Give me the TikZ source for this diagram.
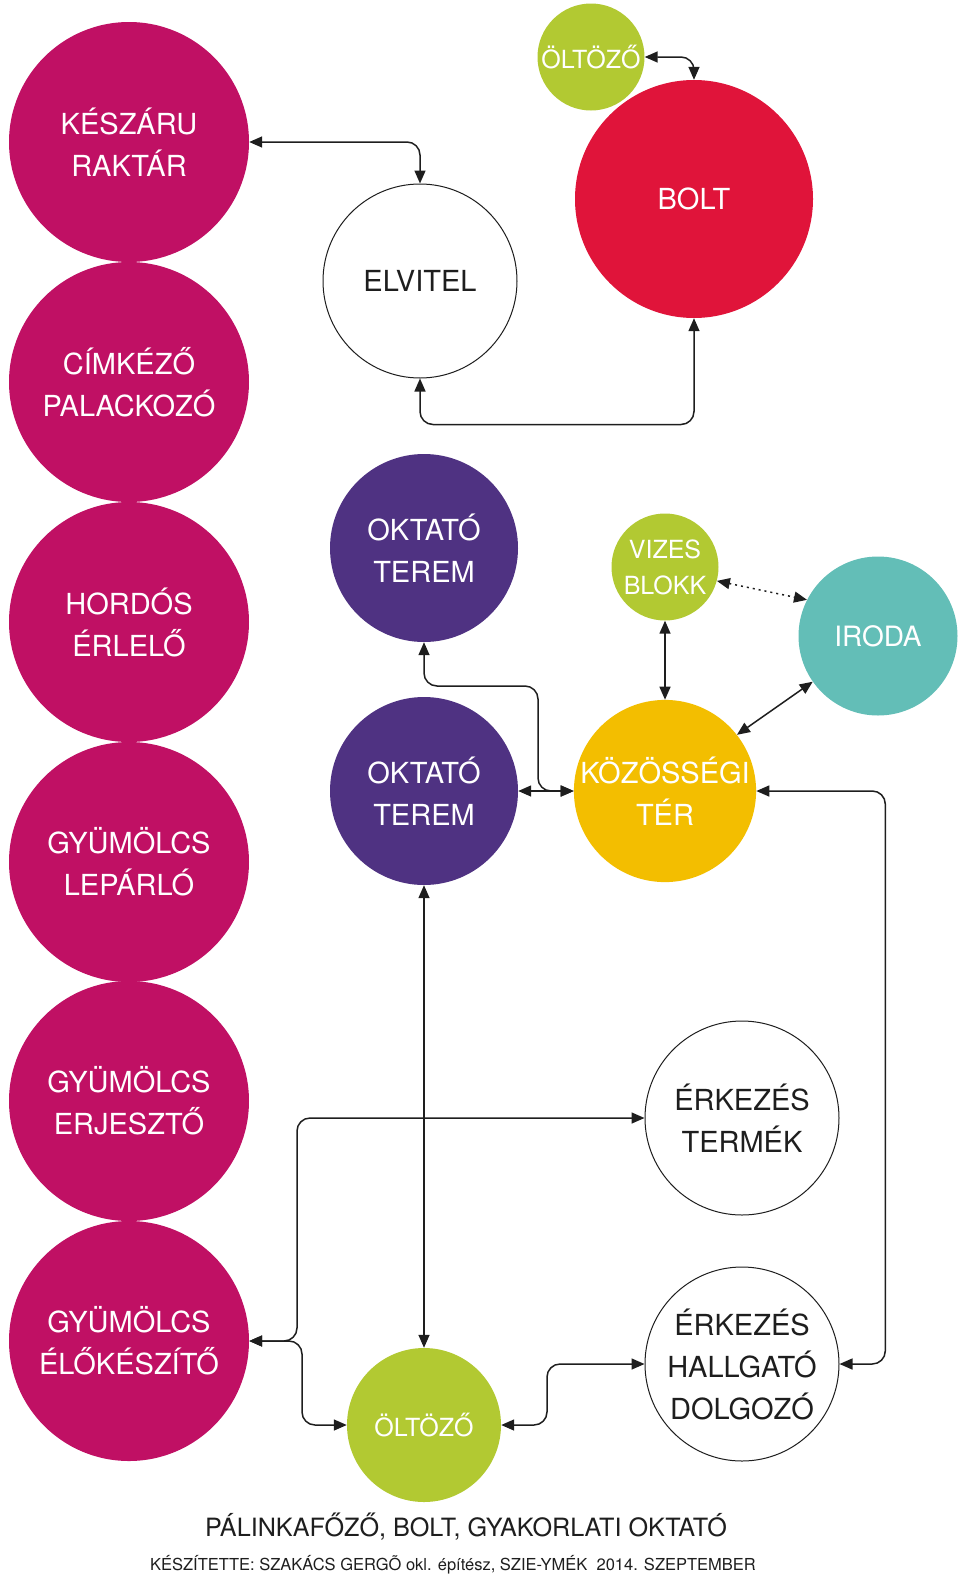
\documentclass[tikz,border=0pt]{standalone}
\usepackage{fontspec}
\setmainfont{TeX Gyre Heros}
\usetikzlibrary{arrows.meta, positioning}
\definecolor{magenta}{HTML}{C01064}
\definecolor{boltred}{HTML}{E0143A}
\definecolor{lime}{HTML}{B2C932}
\definecolor{violet}{HTML}{4F3282}
\definecolor{teal}{HTML}{63BEB7}
\definecolor{sun}{HTML}{F3BE00}
\definecolor{ink}{HTML}{1E1E1E}
\tikzset{
  room/.style={circle, inner sep=0pt, align=center, text=white,
               font=\fontsize{29}{42}\selectfont},
  mroom/.style={room, fill=magenta, minimum size=240pt},
  wroom/.style={room, draw=ink, line width=1pt, fill=white, text=ink, minimum size=194pt},
  sroom/.style={room, fill=lime, font=\fontsize{25}{36}\selectfont},
  lnk/.style={{Triangle[length=13pt,width=11pt]}-{Triangle[length=13pt,width=11pt]},
              line width=1.5pt, draw=ink, rounded corners=13pt},
}
\begin{document}
\begin{tikzpicture}[x=1pt, y=-1pt]
    \useasboundingbox (0,0) rectangle (960,1577);
    % production line on the left
    \node[mroom] (keszaru) at (129,142) {KÉSZÁRU\\RAKTÁR};
    \node[mroom] (cimkezo) at (129,382) {CÍMKÉZŐ\\PALACKOZÓ};
    \node[mroom] (hordos) at (129,622) {HORDÓS\\ÉRLELŐ};
    \node[mroom] (leparlo) at (129,862) {GYÜMÖLCS\\LEPÁRLÓ};
    \node[mroom] (erjeszto) at (129,1101) {GYÜMÖLCS\\ERJESZTŐ};
    \node[mroom] (elokeszito) at (129,1341) {GYÜMÖLCS\\ÉLŐKÉSZÍTŐ};
    % shop
    \node[sroom, minimum size=107pt] (oltozofent) at (591,57) {ÖLTÖZŐ};
    \node[room, fill=boltred, minimum size=238pt] (bolt) at (694,199) {BOLT};
    \node[wroom] (elvitel) at (420,281) {ELVITEL};
    % teaching
    \node[room, fill=violet, minimum size=188pt] (oktato1) at (424,548) {OKTATÓ\\TEREM};
    \node[room, fill=violet, minimum size=188pt] (oktato2) at (424,791) {OKTATÓ\\TEREM};
    \node[sroom, minimum size=107pt] (vizes) at (665,567) {VIZES\\BLOKK};
    \node[room, fill=teal, minimum size=159pt, font=\fontsize{28}{40}\selectfont] (iroda) at (878,636) {IRODA};
    \node[room, fill=sun, minimum size=181pt] (kozos) at (665,791) {KÖZÖSSÉGI\\TÉR};
    % arrivals
    \node[wroom] (termek) at (742,1118) {ÉRKEZÉS\\TERMÉK};
    \node[wroom] (hallgato) at (742,1364) {ÉRKEZÉS\\HALLGATÓ\\DOLGOZÓ};
    \node[sroom, minimum size=154pt] (oltozolent) at (424,1425) {ÖLTÖZŐ};
    % captions
    \node[font=\fontsize{25.2}{30}\selectfont, text=ink] (cim) at (466,1527) {PÁLINKAFŐZŐ, BOLT, GYAKORLATI OKTATÓ};
    \node[font=\fontsize{16.5}{20}\selectfont, text=ink] (keszito) at (453,1565) {KÉSZÍTETTE: SZAKÁCS GERGÕ okl. építész, SZIE-YMÉK\ \ 2014. SZEPTEMBER};
    % connections
    \draw[lnk] (keszaru.east) -| (elvitel.north);
    \draw[lnk] (elvitel.south) -- ++(0,46) -| (bolt.south);
    \draw[lnk] (oltozofent.east) -| (bolt.north);
    \draw[lnk] (oktato1.south) |- (538,686) |- (kozos.west);
    \draw[lnk] (oktato2.east) -- (kozos.west);
    \draw[lnk] (vizes.south) -- (kozos.north);
    \draw[lnk, dash pattern=on 2pt off 4pt] (vizes.-15) -- (iroda.153);
    \draw[lnk] (kozos.38) -- (iroda.215);
    \draw[lnk] (kozos.east) -- ++(129,0) |- (hallgato.east);
    \draw[lnk] (oktato2.south) -- (oltozolent.north);
    \draw[lnk] (elokeszito.east) -- (297,1341) |- (termek.west);
    \draw[lnk] (elokeszito.east) -- (302,1341) |- (oltozolent.west);
    \draw[lnk] (oltozolent.east) -- (547,1425) |- (hallgato.west);
\end{tikzpicture}
\end{document}
